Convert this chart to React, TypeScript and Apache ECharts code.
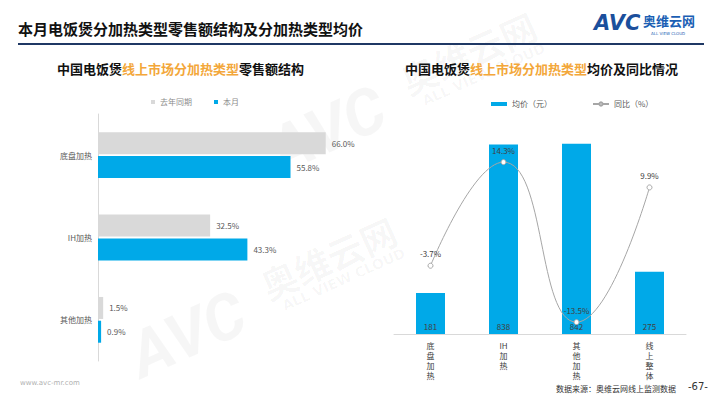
import React, { useEffect, useRef } from "react";
import * as echarts from "echarts";

const leftCategories = ["底盘加热", "IH加热", "其他加热"];
const lastYearShare = [66.0, 32.5, 1.5];
const thisMonthShare = [55.8, 43.3, 0.9];

const rightCategories = ["底\n盘\n加\n热", "IH\n加\n热", "其\n他\n加\n热", "线\n上\n整\n体"];
const avgPrice = [181, 838, 842, 275];
const yoyPct = [-3.7, 14.3, -13.5, 9.9];

const BLUE = "#00a9e8";
const GREY = "#d9d9d9";
const ORANGE = "#f3a73a";

export default function App() {
  const ref = useRef<HTMLDivElement>(null);
  useEffect(() => {
    if (!ref.current) return;
    const chart = echarts.init(ref.current, undefined, { renderer: "svg" });
    const font = "'Noto Sans CJK SC', 'Noto Sans', sans-serif";
    const wm = "rgba(0,0,0,0.035)";
    chart.setOption({
      animation: false,
      textStyle: { fontFamily: font },
      legend: [
        {
          data: ["去年同期", "本月"],
          left: 146,
          top: 93,
          icon: "rect",
          itemWidth: 4,
          itemHeight: 4,
          itemGap: 22,
          textStyle: { fontSize: 8, color: "#8c8c8c" },
        },
        {
          data: [
            { name: "均价（元）", icon: "rect" },
            { name: "同比（%）" },
          ],
          left: 486,
          top: 95,
          itemGap: 40,
          itemWidth: 16,
          itemHeight: 4,
          textStyle: { fontSize: 8, color: "#595959" },
        },
      ],
      grid: [
        { left: 98, top: 114, width: 276, height: 247 },
        { left: 394, top: 108, width: 292, height: 226 },
      ],
      xAxis: [
        { gridIndex: 0, type: "value", min: 0, max: 80, show: false },
        {
          gridIndex: 1,
          type: "category",
          data: rightCategories,
          axisLine: { lineStyle: { color: "#d9d9d9" } },
          axisTick: { show: false },
          axisLabel: { fontSize: 8, color: "#404040", lineHeight: 10, margin: 6 },
        },
      ],
      yAxis: [
        {
          gridIndex: 0,
          type: "category",
          data: leftCategories,
          inverse: true,
          axisLine: { lineStyle: { color: "#d9d9d9" } },
          axisTick: { show: false },
          axisLabel: { fontSize: 8, color: "#595959", margin: 6 },
        },
        { gridIndex: 1, type: "value", min: 0, max: 1000, show: false },
        { gridIndex: 1, type: "value", min: -15.56, max: 23.7, show: false },
      ],
      series: [
        {
          name: "去年同期",
          type: "bar",
          xAxisIndex: 0,
          yAxisIndex: 0,
          data: lastYearShare,
          barWidth: 22,
          barGap: "8%",
          itemStyle: { color: GREY },
          label: { show: true, position: "right", fontSize: 8, color: "#595959", formatter: (p: any) => p.value.toFixed(1) + "%", distance: 6 },
        },
        {
          name: "本月",
          type: "bar",
          xAxisIndex: 0,
          yAxisIndex: 0,
          data: thisMonthShare,
          barWidth: 22,
          itemStyle: { color: BLUE },
          label: { show: true, position: "right", fontSize: 8, color: "#595959", formatter: (p: any) => p.value.toFixed(1) + "%", distance: 6 },
        },
        {
          name: "均价（元）",
          type: "bar",
          xAxisIndex: 1,
          yAxisIndex: 1,
          data: avgPrice,
          barWidth: 29,
          itemStyle: { color: BLUE },
          label: { show: true, position: "insideBottom", fontSize: 8, color: "#404040", distance: 4 },
        },
        {
          name: "同比（%）",
          type: "line",
          xAxisIndex: 1,
          yAxisIndex: 2,
          data: yoyPct,
          smooth: true,
          symbol: "circle",
          symbolSize: 5,
          lineStyle: { color: "#a6a6a6", width: 1 },
          itemStyle: { color: "#fff", borderColor: "#a6a6a6", borderWidth: 1 },
          label: { show: true, position: "top", fontSize: 8, color: "#404040", formatter: (p: any) => p.value.toFixed(1) + "%", distance: 5 },
          z: 5,
        },
      ],
      graphic: [
        // watermarks
        {
          type: "text",
          x: 120,
          y: 330,
          rotation: 0.42,
          z: -10,
          style: { text: "AVC", font: "italic bold 64px Roboto, sans-serif", fill: wm },
        },
        {
          type: "text",
          x: 255,
          y: 270,
          rotation: 0.42,
          z: -10,
          style: { text: "奥维云网", font: "bold 36px 'Noto Sans CJK SC'", fill: wm },
        },
        {
          type: "text",
          x: 280,
          y: 300,
          rotation: 0.42,
          z: -10,
          style: { text: "ALL VIEW CLOUD", font: "bold 14px 'DejaVu Sans'", fill: wm },
        },
        {
          type: "text",
          x: 260,
          y: 125,
          rotation: 0.42,
          z: -10,
          style: { text: "AVC", font: "italic bold 64px Roboto, sans-serif", fill: wm },
        },
        {
          type: "text",
          x: 395,
          y: 65,
          rotation: 0.42,
          z: -10,
          style: { text: "奥维云网", font: "bold 36px 'Noto Sans CJK SC'", fill: wm },
        },
        {
          type: "text",
          x: 420,
          y: 95,
          rotation: 0.42,
          z: -10,
          style: { text: "ALL VIEW CLOUD", font: "bold 14px 'DejaVu Sans'", fill: wm },
        },
        // main title
        {
          type: "text",
          left: 18,
          top: 21,
          style: { text: "本月电饭煲分加热类型零售额结构及分加热类型均价", font: "bold 15px 'Noto Sans CJK SC'", fill: "#111" },
        },
        {
          type: "rect",
          shape: { x: 18, y: 43, width: 686, height: 2 },
          style: { fill: "#1f3864" },
        },
        // logo
        {
          type: "text",
          left: 594,
          top: 12,
          style: { text: "AVC", font: "italic 900 21px 'DejaVu Sans', sans-serif", fill: "#1b4f9c" },
        },
        {
          type: "text",
          left: 643,
          top: 14,
          style: { text: "奥维云网", font: "bold 13px 'Noto Sans CJK SC'", fill: "#1b5fb4" },
        },
        {
          type: "text",
          left: 651,
          top: 31,
          style: { text: "ALL VIEW CLOUD", font: "4px 'DejaVu Sans'", fill: "#1b5fb4" },
        },
        // subtitles
        {
          type: "text",
          left: 57,
          top: 62,
          style: {
            text: "{a|中国电饭煲}{b|线上市场分加热类型}{a|零售额结构}",
            rich: {
              a: { font: "bold 13px 'Noto Sans CJK SC'", fill: "#111" },
              b: { font: "bold 13px 'Noto Sans CJK SC'", fill: ORANGE },
            },
          },
        },
        {
          type: "text",
          left: 405,
          top: 62,
          style: {
            text: "{a|中国电饭煲}{b|线上市场分加热类型}{a|均价及同比情况}",
            rich: {
              a: { font: "bold 13px 'Noto Sans CJK SC'", fill: "#111" },
              b: { font: "bold 13px 'Noto Sans CJK SC'", fill: ORANGE },
            },
          },
        },
        // footer
        {
          type: "text",
          left: 20,
          top: 379,
          style: { text: "www.avc-mr.com", font: "7px 'DejaVu Sans'", fill: "#b0b0b0" },
        },
        {
          type: "text",
          left: 556,
          top: 384,
          style: { text: "数据来源：奥维云网线上监测数据", font: "8px 'Noto Sans CJK SC'", fill: "#333" },
        },
        {
          type: "text",
          left: 688,
          top: 381,
          style: { text: "-67-", font: "10px 'DejaVu Sans'", fill: "#333" },
        },
      ],
    });
    return () => chart.dispose();
  }, []);
  return <div ref={ref} style={{ width: 720, height: 405, position: "fixed", left: 0, top: 0, background: "#fff" }} />;
}
